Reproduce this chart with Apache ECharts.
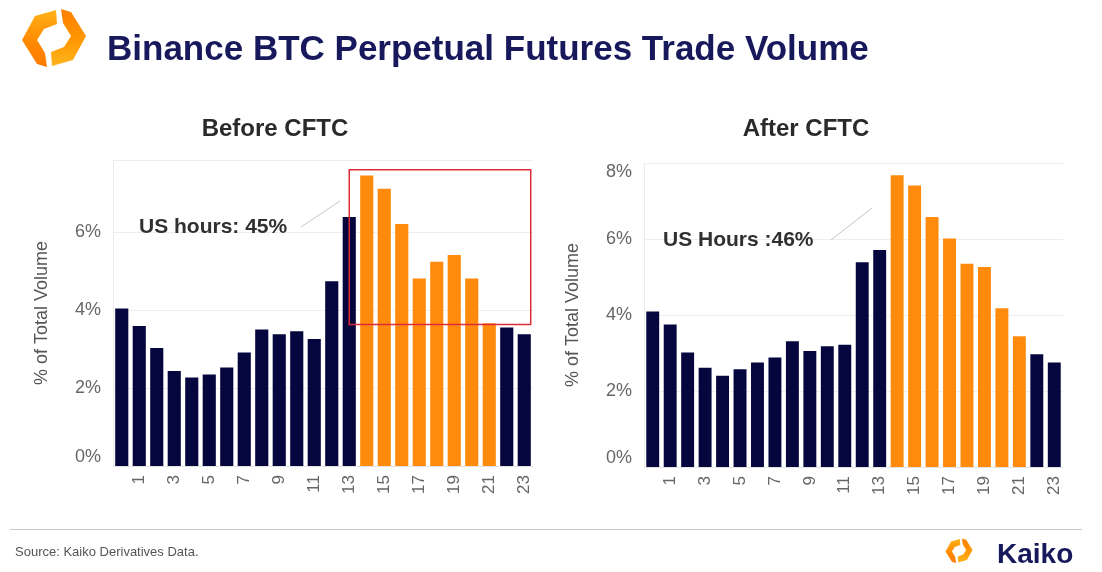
<!DOCTYPE html>
<html>
<head>
<meta charset="utf-8">
<script src="https://cdn.jsdelivr.net/npm/echarts@6/dist/echarts.min.js"></script>
<style>
  html, body { margin: 0; padding: 0; background: #ffffff; }
  #chart { width: 1102px; height: 572px; }
</style>
</head>
<body>
<div id="chart"></div>
<script>
// ---------- data ----------
const hours = ['0','1','2','3','4','5','6','7','8','9','10','11','12','13','14','15','16','17','18','19','20','21','22','23'];
const shownHourLabels = ['1','3','5','7','9','11','13','15','17','19','21','23'];
const beforeValues = [4.04, 3.59, 3.03, 2.44, 2.27, 2.35, 2.53, 2.91, 3.50, 3.38, 3.46, 3.26, 4.74, 6.39, 7.45, 7.11, 6.21, 4.81, 5.24, 5.41, 4.81, 3.66, 3.55, 3.38];
const afterValues  = [4.09, 3.75, 3.01, 2.61, 2.40, 2.57, 2.75, 2.88, 3.31, 3.05, 3.18, 3.22, 5.39, 5.71, 7.68, 7.41, 6.58, 6.01, 5.35, 5.26, 4.18, 3.44, 2.97, 2.75];
const usHourStart = 14;
const usHourEnd = 21;
const beforeTitle = 'Before CFTC';
const afterTitle = 'After CFTC';
const beforeNote = 'US hours: 45%';
const afterNote = 'US Hours :46%';
const yAxisTitle = '% of Total Volume';
const mainTitle = 'Binance BTC Perpetual Futures Trade Volume';
const sourceText = 'Source: Kaiko Derivatives Data.';
const brandText = 'Kaiko';
// highlighted box on the "before" chart: hours 13 (centre) .. 23 (right edge), value range
const boxFromHour = '13';
const boxToHour = '23';
const boxTopValue = 7.6;
const boxBottomValue = 3.63;

// ---------- styles ----------
const FONT = 'Liberation Sans, Arial, Helvetica, sans-serif';
const NAVY = '#06063f';
const ORANGE = '#ff8a0c';
const GRID_LINE = '#eeeeee';
const LABEL_GRAY = '#666666';

function barData(values) {
  return values.map((v, i) => ({
    value: v,
    itemStyle: { color: (i >= usHourStart && i <= usHourEnd) ? ORANGE : NAVY }
  }));
}

function xAxisCfg(gridIndex) {
  return {
    type: 'category', gridIndex: gridIndex, data: hours,
    axisTick: { show: false },
    axisLine: { show: true, lineStyle: { color: '#e4e4e4', width: 1 } },
    axisLabel: {
      rotate: 90, fontSize: 17, color: LABEL_GRAY, fontFamily: FONT, margin: 9,
      interval: function (i, v) { return shownHourLabels.indexOf(v) >= 0; }
    }
  };
}

function yAxisCfg(gridIndex, max) {
  return {
    type: 'value', gridIndex: gridIndex, min: 0, max: max, interval: 2,
    name: yAxisTitle, nameLocation: 'middle', nameGap: 62,
    nameTextStyle: { fontSize: 18, color: '#555555', fontFamily: FONT },
    axisLine: { show: true, lineStyle: { color: '#ececec' } },
    axisTick: { show: false },
    splitLine: { show: true, lineStyle: { color: GRID_LINE } },
    axisLabel: {
      fontSize: 18, color: LABEL_GRAY, fontFamily: FONT, margin: 12,
      verticalAlignMinLabel: 'bottom', verticalAlignMaxLabel: 'top',
      formatter: function (v) { return (Math.abs(v % 2) < 1e-9) ? (v + '%') : ''; }
    }
  };
}

function logoShapes(x0, y0, s) {
  const left = [[56,10],[35,16],[22,40],[37,64],[47,67],[45,53],[37,40],[44,29],[57,24]];
  const right = [[52,66],[73,60],[86,36],[71,12],[61,9],[63,23],[71,36],[64,47],[51,52]];
  const tf = pts => pts.map(p => [x0 + (p[0] - 23) * s, y0 + (p[1] - 10) * s]);
  return [
    { type: 'polygon', shape: { points: tf(left) },
      style: { fill: new echarts.graphic.LinearGradient(0, 0, 0, 1, [{ offset: 0, color: '#ffb21a' }, { offset: 0.55, color: '#ff8a00' }, { offset: 1, color: '#ff7a00' }]) } },
    { type: 'polygon', shape: { points: tf(right) },
      style: { fill: new echarts.graphic.LinearGradient(0, 0, 0, 1, [{ offset: 0, color: '#ff7f00' }, { offset: 0.5, color: '#ff9500' }, { offset: 1, color: '#ffb41c' }]) } }
  ];
}

const chart = echarts.init(document.getElementById('chart'), null, { renderer: 'canvas' });

const option = {
  backgroundColor: '#ffffff',
  animation: false,
  grid: [
    { left: 113, top: 160, width: 420, height: 306 },
    { left: 644, top: 163, width: 419, height: 304 }
  ],
  xAxis: [xAxisCfg(0), xAxisCfg(1)],
  yAxis: [yAxisCfg(0, 7.85), yAxisCfg(1, 8)],
  series: [
    { type: 'bar', xAxisIndex: 0, yAxisIndex: 0, data: barData(beforeValues), barCategoryGap: '25%' },
    { type: 'bar', xAxisIndex: 1, yAxisIndex: 1, data: barData(afterValues), barCategoryGap: '26%' }
  ]
};
chart.setOption(option);

// highlight box computed from data coordinates
const pTopLeft = chart.convertToPixel({ xAxisIndex: 0, yAxisIndex: 0 }, [boxFromHour, boxTopValue]);
const pBotRight = chart.convertToPixel({ xAxisIndex: 0, yAxisIndex: 0 }, [boxToHour, boxBottomValue]);
const band = chart.getModel().getComponent('xAxis', 0).axis.getBandWidth();
const boxRight = pBotRight[0] + band / 2 * 0.74;

const graphics = [].concat(
  logoShapes(23, 10, 1),
  [
    { type: 'text', style: { x: 107, y: 50, text: mainTitle, font: 'bold 35px ' + FONT, fill: '#17195c', verticalAlign: 'middle' } },
    { type: 'text', style: { x: 275, y: 129, text: beforeTitle, font: 'bold 24px ' + FONT, fill: '#2a2a2a', align: 'center', verticalAlign: 'middle' } },
    { type: 'text', style: { x: 806, y: 129, text: afterTitle, font: 'bold 24px ' + FONT, fill: '#2a2a2a', align: 'center', verticalAlign: 'middle' } },
    { type: 'text', style: { x: 139, y: 227, text: beforeNote, font: 'bold 21px ' + FONT, fill: '#303030', verticalAlign: 'middle' } },
    { type: 'line', shape: { x1: 301, y1: 227, x2: 340, y2: 201 }, style: { stroke: '#c4c4c4', lineWidth: 1 } },
    { type: 'text', style: { x: 663, y: 240, text: afterNote, font: 'bold 21px ' + FONT, fill: '#303030', verticalAlign: 'middle' } },
    { type: 'line', shape: { x1: 831, y1: 240, x2: 872, y2: 208 }, style: { stroke: '#c4c4c4', lineWidth: 1 } },
    { type: 'rect', z: 100, shape: { x: pTopLeft[0], y: pTopLeft[1], width: boxRight - pTopLeft[0], height: pBotRight[1] - pTopLeft[1] },
      style: { fill: 'none', stroke: '#dd2c38', lineWidth: 1.5 } },
    { type: 'line', shape: { x1: 10, y1: 529.5, x2: 1082, y2: 529.5 }, style: { stroke: '#c9c9c9', lineWidth: 1 } },
    { type: 'text', style: { x: 15, y: 552, text: sourceText, font: '13px ' + FONT, fill: '#555555', verticalAlign: 'middle' } },
    { type: 'text', style: { x: 997, y: 555, text: brandText, font: 'bold 28px ' + FONT, fill: '#17195c', verticalAlign: 'middle' } }
  ],
  logoShapes(946, 539, 0.42)
);
chart.setOption({ graphic: graphics });
</script>
</body>
</html>
